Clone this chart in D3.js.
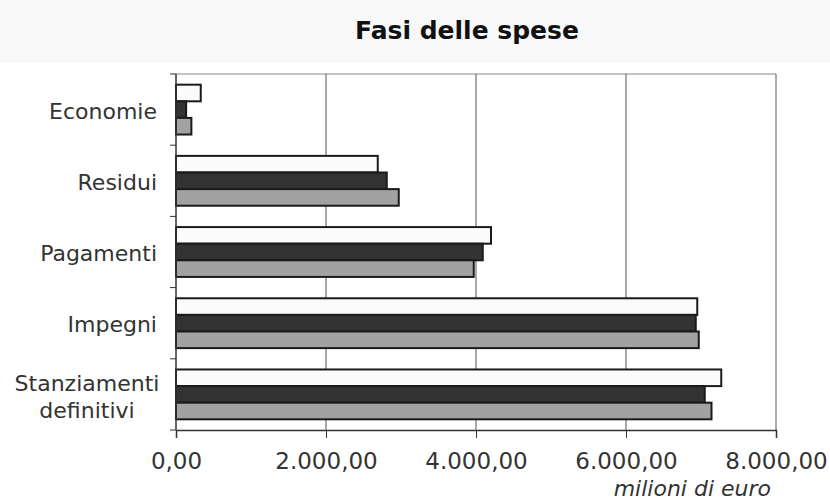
<!DOCTYPE html>
<html>
<head>
<meta charset="utf-8">
<script src="https://cdn.jsdelivr.net/npm/d3@7"></script>
<style>
  body { margin: 0; background: #fff; }
  svg { display: block; }
</style>
</head>
<body>
<div id="chart"></div>
<script>
// data (milioni di euro)
var categorie = ["Economie", "Residui", "Pagamenti", "Impegni", "Stanziamenti definitivi"];
var serieBianca = [330, 2690, 4200, 6950, 7270];
var serieScura = [135, 2810, 4090, 6930, 7050];
var serieGrigia = [205, 2970, 3970, 6970, 7140];
var tickValori = [0, 2000, 4000, 6000, 8000];

var width = 830, height = 502;
var margin = {top: 74, right: 54, bottom: 72, left: 175};

var svg = d3.select("#chart").append("svg")
  .attr("width", width)
  .attr("height", height);

// light grey band behind the title
svg.append("rect")
  .attr("x", 0).attr("y", 0)
  .attr("width", width).attr("height", 63)
  .attr("fill", "#f8f8f8");

svg.append("text")
  .attr("x", 467).attr("y", 39)
  .attr("text-anchor", "middle")
  .attr("font-family", "DejaVu Sans, Verdana, sans-serif")
  .attr("font-weight", "bold")
  .attr("font-size", 25)
  .attr("fill", "#111")
  .text("Fasi delle spese");

var x = d3.scaleLinear()
  .domain([0, 8000])
  .range([margin.left + 1, width - margin.right]);

var y = d3.scaleBand()
  .domain(categorie)
  .range([margin.top, height - margin.bottom])
  .paddingInner(0.3)
  .paddingOuter(0.15);

var serie = [
  {nome: "a", valori: serieBianca, fill: "#fbfbfb"},
  {nome: "b", valori: serieScura, fill: "#333"},
  {nome: "c", valori: serieGrigia, fill: "#a2a2a2"}
];

var ySub = d3.scaleBand()
  .domain(serie.map(function(s){ return s.nome; }))
  .range([0, y.bandwidth()])
  .padding(0);

var fmt = function(v){
  var s = d3.format(",.2f")(v);
  return s.replace(/,/g, "#").replace(".", ",").replace(/#/g, ".");
};

// top border of the plot area
svg.append("line")
  .attr("x1", x(0)).attr("x2", x(8000))
  .attr("y1", margin.top).attr("y2", margin.top)
  .attr("stroke", "#888").attr("stroke-width", 1);

// vertical gridlines
svg.append("g")
  .selectAll("line")
  .data(tickValori.slice(1))
  .enter().append("line")
  .attr("x1", function(d){ return x(d); })
  .attr("x2", function(d){ return x(d); })
  .attr("y1", margin.top)
  .attr("y2", height - margin.bottom)
  .attr("stroke", "#555").attr("stroke-width", 1);

// bars
var gruppi = svg.append("g").selectAll("g")
  .data(serie)
  .enter().append("g");

gruppi.selectAll("rect")
  .data(function(s){
    return s.valori.map(function(v, i){ return {cat: categorie[i], v: v, s: s}; });
  })
  .enter().append("rect")
  .attr("x", x(0))
  .attr("y", function(d){ return y(d.cat) + ySub(d.s.nome); })
  .attr("width", function(d){ return x(d.v) - x(0); })
  .attr("height", ySub.bandwidth())
  .attr("fill", function(d){ return d.s.fill; })
  .attr("stroke", "#1a1a1a")
  .attr("stroke-width", 2);

// x axis
var xAxis = svg.append("g")
  .attr("transform", "translate(0," + (height - margin.bottom) + ")")
  .call(d3.axisBottom(x).tickValues(tickValori).tickFormat(fmt).tickSize(8).tickPadding(15));
xAxis.select(".domain").attr("stroke", "#333").attr("stroke-width", 1.5);
xAxis.selectAll(".tick line").attr("stroke", "#333");
xAxis.selectAll("text")
  .attr("font-family", "DejaVu Sans, Verdana, sans-serif")
  .attr("font-size", 23)
  .attr("fill", "#333");

// y axis: line plus ticks at band boundaries
svg.append("line")
  .attr("x1", x(0)).attr("x2", x(0))
  .attr("y1", margin.top).attr("y2", height - margin.bottom)
  .attr("stroke", "#333").attr("stroke-width", 1.5);

var step = y.step();
var bordi = categorie.map(function(c){ return y(c) - y.paddingInner() * step / 2; });
bordi.push(height - margin.bottom);
svg.append("g").selectAll("line")
  .data(bordi)
  .enter().append("line")
  .attr("x1", x(0) - 6).attr("x2", x(0))
  .attr("y1", function(d){ return d; })
  .attr("y2", function(d){ return d; })
  .attr("stroke", "#333");

// category labels
var etichette = svg.append("g").selectAll("text")
  .data(categorie)
  .enter().append("text")
  .attr("text-anchor", "end")
  .attr("x", 157)
  .attr("font-family", "DejaVu Sans, Verdana, sans-serif")
  .attr("font-size", 22)
  .attr("fill", "#333");

etichette.each(function(c){
  var t = d3.select(this);
  var mid = y(c) + y.bandwidth() / 2;
  if (c === "Stanziamenti definitivi") {
    t.attr("text-anchor", "middle").attr("x", 87);
    t.append("tspan").attr("x", 87).attr("y", mid - 3).text("Stanziamenti");
    t.append("tspan").attr("x", 87).attr("y", mid + 24).text("definitivi");
  } else {
    t.attr("y", mid + 9).text(c);
  }
});

svg.append("text")
  .attr("x", 771).attr("y", 496)
  .attr("text-anchor", "end")
  .attr("font-family", "DejaVu Sans, Verdana, sans-serif")
  .attr("font-style", "italic")
  .attr("font-size", 22)
  .attr("fill", "#333")
  .text("milioni di euro");
</script>
</body>
</html>
